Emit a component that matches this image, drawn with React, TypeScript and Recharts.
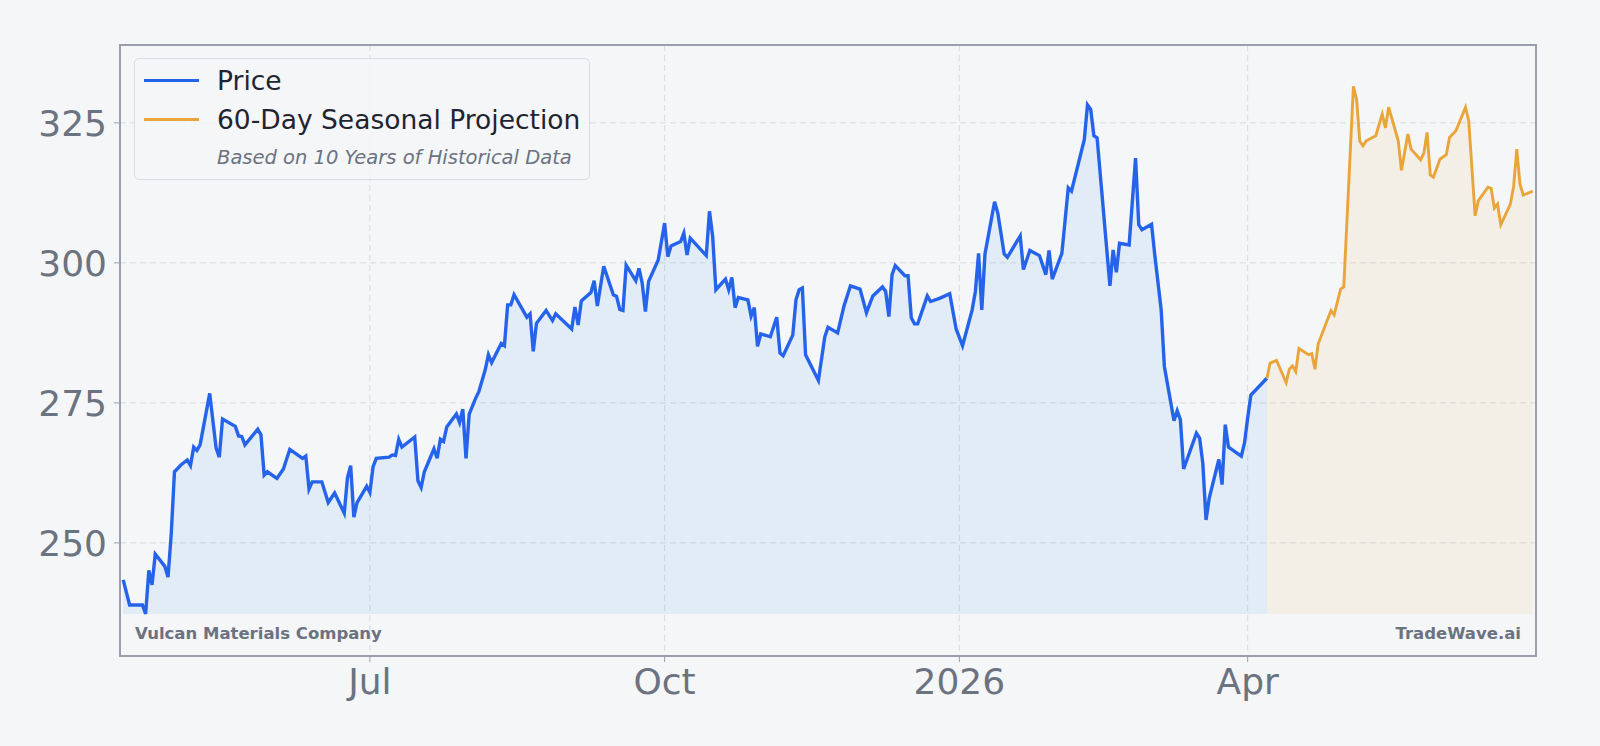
import { ComposedChart, Area, XAxis, YAxis, CartesianGrid } from "recharts";

const BG = "#f5f6f8";
const FONT = "'DejaVu Sans', sans-serif";
const BLUE = "#2563eb";
const ORANGE = "#e9a53a";

const DAY = 86400000;
const START = Date.UTC(2025, 3, 14);

// trading-day vertices, days after START
const priceDays = [
  1, 3, 7, 8, 9, 10, 11, 14, 15, 16, 17, 19, 21, 22, 23, 24, 25, 28, 30, 31, 32, 36, 37, 38, 39,
  43, 44, 45, 46, 49, 51, 53, 57, 58, 59, 60, 63, 65, 67, 70, 71, 72, 73, 74, 77, 78, 79, 80,
  84, 85, 86, 87, 88, 92, 93, 94, 95, 98, 99, 100, 101, 102, 105, 106, 107, 108, 109, 111, 112,
  114, 115, 116, 119, 120, 121, 122, 123, 127, 128, 129, 130, 133, 135, 136, 141, 142, 143, 144,
  147, 148, 149, 151, 154, 155, 156, 157, 158, 161, 162, 163, 164, 165, 168, 170, 171, 172, 175,
  176, 177, 178, 183, 184, 185, 186, 189, 190, 191, 192, 193, 196, 197, 198, 199, 200, 203, 205,
  206, 207, 210, 211, 212, 213, 214, 218, 220, 221, 224, 226, 228, 231, 233, 235, 238, 239, 240,
  241, 242, 245, 246, 247, 248, 249, 252, 253, 256, 259, 261, 263, 266, 267, 268, 269, 270, 273,
  274, 276, 277, 281, 282, 284, 287, 289, 290, 291, 294, 296, 297, 301, 302, 303, 304, 305, 309,
  310, 311, 312, 315, 317, 318, 319, 322, 323, 325, 326, 329, 330, 331, 332, 336, 337, 338, 339,
  340, 343, 344, 345, 346, 350, 351, 352, 353, 358,
];
const priceValues = [
  243.4, 238.9, 238.9, 237.3, 245.1, 242.5, 248.0, 245.8, 243.9, 251.7, 262.7, 263.9, 264.8, 263.8,
  267.1, 266.5, 267.5, 276.7, 266.9, 265.3, 272.1, 270.8, 269.1, 269.0, 267.5, 270.3, 269.3, 262.1,
  262.7, 261.5, 263.2, 266.7, 265.1, 265.5, 259.6, 260.9, 260.9, 257.2, 258.9, 255.3, 261.6, 263.8,
  254.6, 257.2, 260.1, 259.0, 263.6, 265.1, 265.3, 265.7, 265.6, 268.5, 267.1, 268.9, 261.1, 259.9,
  262.7, 266.8, 265.1, 268.5, 268.1, 270.7, 273.0, 271.5, 273.9, 265.1, 273.0, 275.8, 277.0, 280.9,
  283.6, 282.2, 285.6, 285.2, 292.5, 292.5, 294.3, 290.3, 290.9, 284.2, 289.2, 291.5, 289.7, 290.9,
  288.2, 292.1, 288.9, 293.2, 294.7, 296.8, 292.3, 299.4, 294.3, 294.0, 291.7, 291.5, 299.6, 296.8,
  299.0, 296.4, 291.3, 296.7, 300.5, 307.1, 301.1, 303.0, 303.8, 305.3, 301.4, 304.4, 301.3, 309.2,
  304.7, 295.2, 297.1, 295.2, 297.4, 292.0, 293.8, 293.4, 290.5, 292.0, 285.1, 287.3, 286.8, 290.3,
  283.9, 283.4, 287.1, 293.4, 295.2, 295.5, 283.6, 279.0, 286.8, 288.5, 287.5, 292.3, 295.9, 295.3,
  291.1, 294.1, 295.7, 294.9, 290.4, 297.9, 299.5, 297.7, 297.7, 290.2, 289.1, 289.1, 294.1, 293.1,
  293.7, 294.5, 288.2, 285.2, 291.6, 294.9, 301.7, 291.6, 301.6, 310.9, 308.9, 301.6, 301.0, 304.8,
  298.8, 302.2, 301.3, 297.9, 302.2, 297.1, 301.7, 313.4, 312.8, 322.0, 328.2, 327.4, 322.7, 322.3,
  295.9, 302.3, 298.3, 303.5, 303.2, 318.7, 306.8, 305.9, 306.9, 301.4, 291.6, 281.5, 271.8, 273.6,
  272.0, 263.2, 269.6, 268.7, 264.2, 254.1, 258.0, 264.9, 260.4, 271.1, 267.1, 265.5, 267.8, 272.3,
  276.4, 279.4,
];

const projDays = [
  358, 359, 361, 364, 365, 366, 367, 368, 371, 372, 373, 374, 378, 379, 381, 382, 385, 386, 387,
  388, 389, 392, 394, 395, 396, 399, 400, 402, 403, 406, 407, 408, 409, 410, 412, 414, 415, 417,
  420, 421, 423, 424, 427, 428, 429, 430, 431, 434, 435, 436, 437, 438, 441,
];
const projValues = [
  279.4, 282.1, 282.6, 278.6, 281.0, 281.6, 280.6, 284.7, 283.6, 283.8, 281.0, 285.5, 291.5, 290.7,
  295.3, 295.7, 331.5, 329.2, 321.7, 320.9, 321.8, 322.7, 326.6, 324.1, 327.8, 321.8, 316.5, 323.0,
  320.3, 318.4, 319.6, 323.3, 315.7, 315.3, 318.5, 319.3, 322.4, 323.6, 327.8, 325.4, 308.4, 311.1,
  313.5, 313.3, 309.8, 310.5, 306.8, 310.5, 313.6, 320.3, 314.1, 312.1, 312.8,
];

const yTicks = [250, 275, 300, 325];
const xTicks = [Date.UTC(2025, 6, 1), Date.UTC(2025, 9, 1), Date.UTC(2026, 0, 1), Date.UTC(2026, 3, 1)];
const xTickLabels = ["Jul", "Oct", "2026", "Apr"];

const byDay = new Map<number, { t: number; price?: number; proj?: number }>();
priceDays.forEach((d, i) => byDay.set(d, { t: START + d * DAY, price: priceValues[i] }));
projDays.forEach((d, i) => {
  const row = byDay.get(d) ?? { t: START + d * DAY };
  row.proj = projValues[i];
  byDay.set(d, row);
});
const rows = [...byDay.entries()].sort((a, b) => a[0] - b[0]).map((e) => e[1]);

const base = Math.min(...priceValues);

export default function App() {
  return (
    <div style={{ position: "absolute", left: 0, top: 0, width: 1600, height: 746, background: BG, fontFamily: FONT }}>
      <ComposedChart width={1600} height={746} data={rows} margin={{ top: 45, right: 64, bottom: 30, left: 0 }}>
        <CartesianGrid stroke="#d6dae1" strokeDasharray="6 4" />
        <XAxis
          dataKey="t"
          type="number"
          domain={[START, START + 442 * DAY]}
          ticks={xTicks}
          tickFormatter={(v) => xTickLabels[xTicks.indexOf(v)] ?? ""}
          height={60}
          tickSize={6}
          tickMargin={6}
          axisLine={false}
          tickLine={{ stroke: "#9a9eab" }}
          tick={{ fill: "#6b7280", fontSize: 36 }}
          allowDataOverflow
        />
        <YAxis
          type="number"
          domain={[229.8, 338.9]}
          ticks={yTicks}
          width={120}
          tickSize={6}
          tickMargin={7}
          axisLine={false}
          tickLine={{ stroke: "#9a9eab" }}
          tick={{ fill: "#6b7280", fontSize: 36 }}
          allowDataOverflow
        />
        <Area
          type="linear"
          dataKey="price"
          stroke={BLUE}
          strokeWidth={3.4}
          fill="#2d8fee"
          fillOpacity={0.1}
          baseValue={base}
          dot={false}
          activeDot={false}
          isAnimationActive={false}
        />
        <Area
          type="linear"
          dataKey="proj"
          stroke={ORANGE}
          strokeWidth={2.9}
          fill={ORANGE}
          fillOpacity={0.09}
          baseValue={base}
          dot={false}
          activeDot={false}
          isAnimationActive={false}
        />
      </ComposedChart>

      <div style={{ position: "absolute", left: 119, top: 44, width: 1418, height: 613, border: "2px solid #9a9eab", boxSizing: "border-box", pointerEvents: "none" }} />

      <div style={{ position: "absolute", left: 134, top: 58, width: 456, height: 122, border: "1px solid #d9dde3", borderRadius: 5, background: "rgba(245,246,248,0.85)", boxSizing: "border-box" }} />
      <div style={{ position: "absolute", left: 144, top: 78.5, width: 55, height: 3.4, background: BLUE }} />
      <div style={{ position: "absolute", left: 144, top: 118, width: 55, height: 2.9, background: ORANGE }} />
      <div style={{ position: "absolute", left: 217, top: 64.5, height: 32, lineHeight: "32px", fontSize: 26.5, color: "#1f2430", whiteSpace: "nowrap" }}>Price</div>
      <div style={{ position: "absolute", left: 217, top: 103.5, height: 32, lineHeight: "32px", fontSize: 26.5, color: "#1f2430", whiteSpace: "nowrap" }}>60-Day Seasonal Projection</div>
      <div style={{ position: "absolute", left: 217, top: 145, height: 26, lineHeight: "26px", fontSize: 19.5, fontStyle: "italic", color: "#6b7280", whiteSpace: "nowrap" }}>Based on 10 Years of Historical Data</div>

      <div style={{ position: "absolute", left: 135, top: 622, height: 24, lineHeight: "24px", fontSize: 16.5, fontWeight: "bold", color: "#6b7280", whiteSpace: "nowrap" }}>Vulcan Materials Company</div>
      <div style={{ position: "absolute", right: 1600 - 1521, top: 622, height: 24, lineHeight: "24px", fontSize: 16.5, fontWeight: "bold", color: "#6b7280", whiteSpace: "nowrap" }}>TradeWave.ai</div>
    </div>
  );
}
